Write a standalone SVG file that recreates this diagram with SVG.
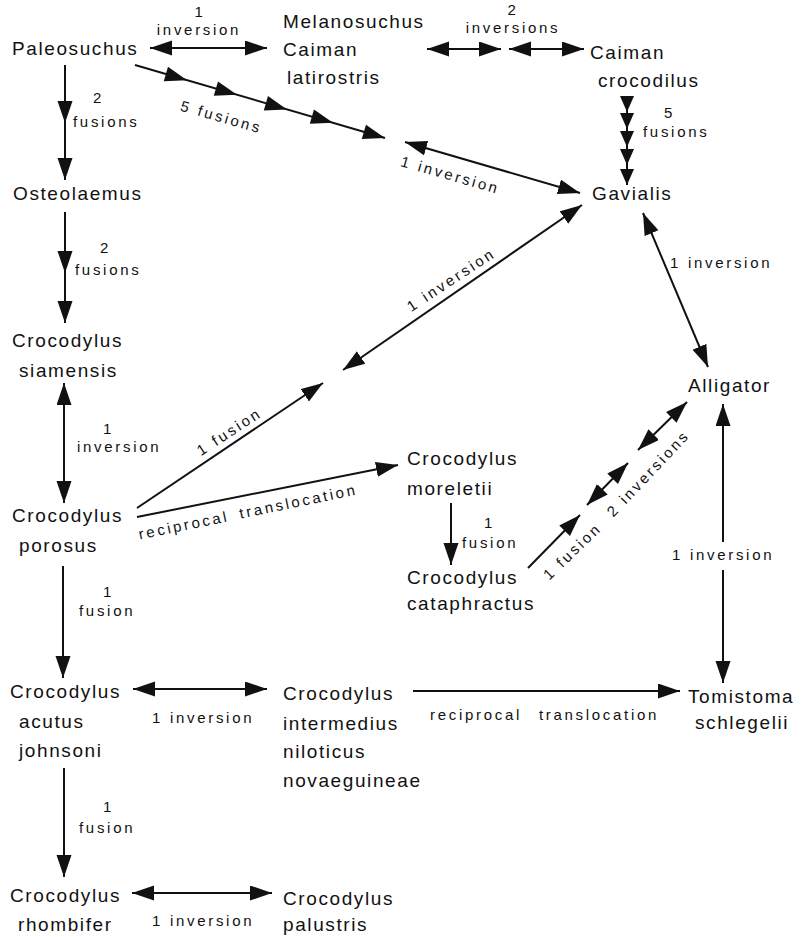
<svg xmlns="http://www.w3.org/2000/svg" xmlns:xlink="http://www.w3.org/1999/xlink" width="803" height="937" viewBox="0 0 803 937">
<style>
.n{font-family:"Liberation Sans",Arial,sans-serif;font-size:19px;letter-spacing:1.6px;fill:#111}
.l{font-family:"Liberation Sans",Arial,sans-serif;font-size:15px;letter-spacing:2.7px;fill:#111}
.m{text-anchor:middle}
.c line{stroke:#111;stroke-width:2;fill:none}
.d{marker-start:url(#ah);marker-end:url(#ah)}
.e{marker-end:url(#ah)}
.s{marker-start:url(#ah)}
</style>
<defs>
<marker id="ah" markerUnits="userSpaceOnUse" markerWidth="24" markerHeight="16" refX="22" refY="7.5" orient="auto-start-reverse"><path d="M0,0 L22,7.5 L0,15 Z" fill="#111"/></marker>
<path id="tri" d="M0,0 L-22,-7.5 L-22,7.5 Z" fill="#111"/>
<path id="tris" d="M0,0 L-16,-7 L-16,7 Z" fill="#111"/>
</defs>
<rect width="803" height="937" fill="#fff"/>
<g class="c" id="connectors">
<line class="d" x1="150" y1="48" x2="267" y2="48"/>
<line class="d" x1="427" y1="49" x2="501" y2="49"/>
<line class="d" x1="509" y1="49" x2="584" y2="49"/>
<line x1="135" y1="65" x2="385" y2="138"/>
<use xlink:href="#tri" transform="translate(187,80.2) rotate(16.3)"/>
<use xlink:href="#tri" transform="translate(237,94.8) rotate(16.3)"/>
<use xlink:href="#tri" transform="translate(287,109.4) rotate(16.3)"/>
<use xlink:href="#tri" transform="translate(333,122.8) rotate(16.3)"/>
<use xlink:href="#tri" transform="translate(385,138) rotate(16.3)"/>
<line x1="627" y1="97" x2="627" y2="185"/>
<use xlink:href="#tris" transform="translate(627,112) rotate(90)"/>
<use xlink:href="#tris" transform="translate(627,129) rotate(90)"/>
<use xlink:href="#tris" transform="translate(627,147) rotate(90)"/>
<use xlink:href="#tris" transform="translate(627,165) rotate(90)"/>
<use xlink:href="#tris" transform="translate(627,185) rotate(90)"/>
<line class="d" x1="405" y1="142" x2="580" y2="193"/>
<line class="e" x1="65" y1="65" x2="65" y2="180"/>
<use xlink:href="#tri" transform="translate(65,123) rotate(90)"/>
<line class="e" x1="65" y1="212" x2="65" y2="323"/>
<use xlink:href="#tri" transform="translate(65,273) rotate(90)"/>
<line class="d" x1="64" y1="383" x2="64" y2="503"/>
<line class="e" x1="137" y1="508" x2="323" y2="383"/>
<line class="d" x1="343" y1="370" x2="582" y2="205"/>
<line class="d" x1="643" y1="213" x2="708" y2="367"/>
<line class="e" x1="137" y1="517" x2="398" y2="465"/>
<line class="e" x1="451" y1="503" x2="451" y2="565"/>
<line class="e" x1="528" y1="568" x2="580" y2="515"/>
<line class="d" x1="587" y1="505" x2="628" y2="463"/>
<line class="d" x1="638" y1="450" x2="687" y2="402"/>
<line class="s" x1="723" y1="404" x2="723" y2="542"/>
<line class="e" x1="723" y1="570" x2="723" y2="683"/>
<line class="e" x1="63" y1="566" x2="63" y2="678"/>
<line class="d" x1="133" y1="689" x2="267" y2="689"/>
<line class="e" x1="413" y1="691" x2="680" y2="691"/>
<line class="e" x1="64" y1="768" x2="64" y2="877"/>
<line class="d" x1="132" y1="893" x2="272" y2="893"/>
</g>
<g id="labels">
<text class="l m" x="200" y="17">1</text>
<text class="l m" x="199" y="35">inversion</text>
<text class="l m" x="513" y="15">2</text>
<text class="l m" x="513" y="33">inversions</text>
<text class="l" x="93" y="103">2</text>
<text class="l" x="73" y="127">fusions</text>
<text class="l" x="664" y="118">5</text>
<text class="l" x="643" y="137">fusions</text>
<text class="l m" transform="translate(220,122) rotate(16)">5 fusions</text>
<text class="l m" transform="translate(449,180) rotate(16)">1 inversion</text>
<text class="l" x="100" y="253">2</text>
<text class="l" x="75" y="275">fusions</text>
<text class="l m" transform="translate(454,284) rotate(-33.5)">1 inversion</text>
<text class="l" x="670" y="268">1 inversion</text>
<text class="l" x="103" y="434">1</text>
<text class="l" x="77" y="452">inversion</text>
<text class="l m" transform="translate(232,436) rotate(-33)">1 fusion</text>
<text class="l m" transform="translate(249,517) rotate(-11.7)" style="word-spacing:4px">reciprocal translocation</text>
<text class="l" x="484" y="528">1</text>
<text class="l" x="462" y="548">fusion</text>
<text class="l m" transform="translate(576,555) rotate(-44)">1 fusion</text>
<text class="l m" transform="translate(652,477) rotate(-46.6)">2 inversions</text>
<text class="l" x="672" y="560">1 inversion</text>
<text class="l" x="103" y="597">1</text>
<text class="l" x="79" y="616">fusion</text>
<text class="l" x="152" y="723">1 inversion</text>
<text class="l" x="430" y="720" style="word-spacing:10px">reciprocal translocation</text>
<text class="l" x="103" y="812">1</text>
<text class="l" x="79" y="833">fusion</text>
<text class="l" x="152" y="926">1 inversion</text>
</g>
<g id="paleosuchus"><text class="n" x="12" y="55">Paleosuchus</text></g>
<g id="melanosuchus-caiman-latirostris"><text class="n" x="283" y="28">Melanosuchus</text><text class="n" x="283" y="56">Caiman</text><text class="n" x="287" y="84">latirostris</text></g>
<g id="caiman-crocodilus"><text class="n" x="590" y="59">Caiman</text><text class="n" x="598" y="87">crocodilus</text></g>
<g id="osteolaemus"><text class="n" x="13" y="200">Osteolaemus</text></g>
<g id="gavialis"><text class="n" x="592" y="200">Gavialis</text></g>
<g id="crocodylus-siamensis"><text class="n" x="12" y="347">Crocodylus</text><text class="n" x="19" y="377">siamensis</text></g>
<g id="alligator"><text class="n" x="688" y="392">Alligator</text></g>
<g id="crocodylus-moreletii"><text class="n" x="407" y="465">Crocodylus</text><text class="n" x="407" y="495">moreletii</text></g>
<g id="crocodylus-porosus"><text class="n" x="12" y="522">Crocodylus</text><text class="n" x="19" y="552">porosus</text></g>
<g id="crocodylus-cataphractus"><text class="n" x="407" y="584">Crocodylus</text><text class="n" x="407" y="610">cataphractus</text></g>
<g id="crocodylus-acutus-johnsoni"><text class="n" x="10" y="698">Crocodylus</text><text class="n" x="19" y="728">acutus</text><text class="n" x="19" y="757">johnsoni</text></g>
<g id="crocodylus-intermedius"><text class="n" x="283" y="700">Crocodylus</text><text class="n" x="283" y="730">intermedius</text><text class="n" x="283" y="758">niloticus</text><text class="n" x="283" y="787">novaeguineae</text></g>
<g id="tomistoma-schlegelii"><text class="n" x="688" y="703">Tomistoma</text><text class="n" x="695" y="729">schlegelii</text></g>
<g id="crocodylus-rhombifer"><text class="n" x="10" y="902">Crocodylus</text><text class="n" x="18" y="931">rhombifer</text></g>
<g id="crocodylus-palustris"><text class="n" x="283" y="905">Crocodylus</text><text class="n" x="283" y="931">palustris</text></g>
</svg>
